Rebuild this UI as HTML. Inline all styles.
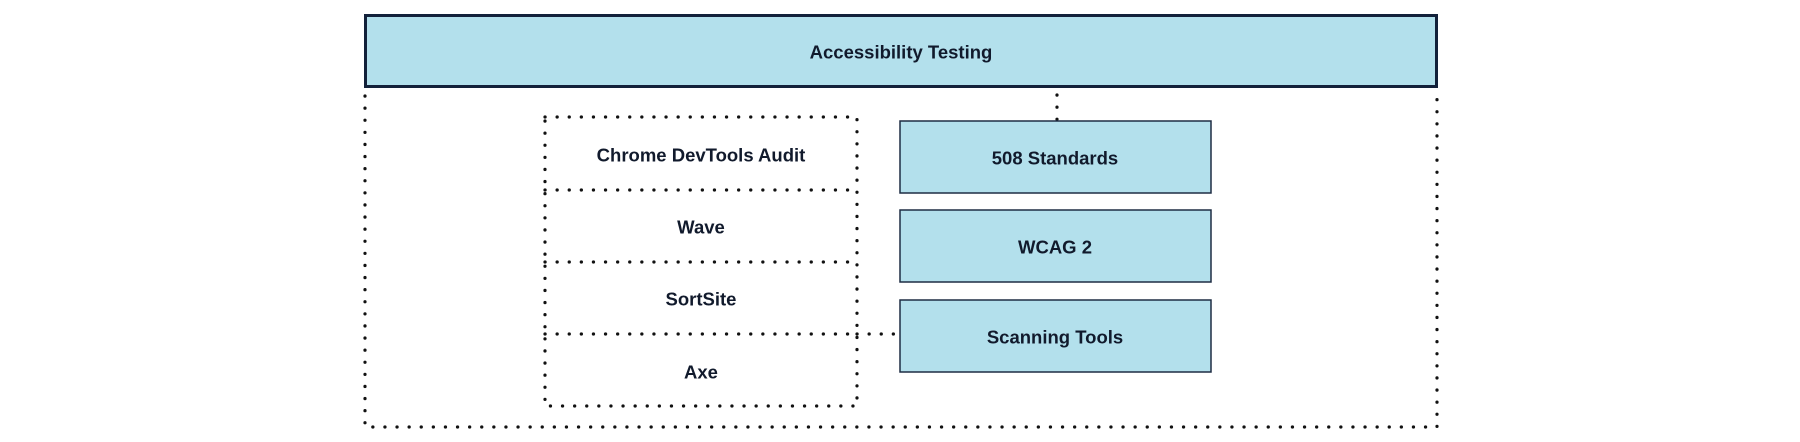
<!DOCTYPE html>
<html><head><meta charset="utf-8"><style>
html,body{margin:0;padding:0;background:#fff;width:1800px;height:442px;overflow:hidden}
svg text{font-family:"Liberation Sans",sans-serif;font-weight:bold;font-size:18.5px;fill:#111a2c;text-anchor:middle;dominant-baseline:central}
</style></head><body>
<svg width="1800" height="442" viewBox="0 0 1800 442" xmlns="http://www.w3.org/2000/svg">
<g stroke="#111" stroke-width="3.2" stroke-linecap="round" stroke-dasharray="0.1 12" fill="none">
<path d="M365 96 V427 H1437 V96"/>
<path d="M545 117 H857 V406 H545 Z"/>
<path d="M545 190 H857 M545 262 H857 M545 334 H857"/>
<path d="M857 334 H898"/>
<path d="M1057 95 V121"/>
</g>
<rect x="365.5" y="15.5" width="1071" height="71" fill="#b3e0ec" stroke="#13213a" stroke-width="3"/>
<text x="901" y="52">Accessibility Testing</text>
<g fill="#b3e0ec" stroke="#1e2d44" stroke-width="1.5">
<rect x="900" y="121" width="311" height="72"/>
<rect x="900" y="210" width="311" height="72"/>
<rect x="900" y="300" width="311" height="72"/>
</g>
<text x="1055" y="158">508 Standards</text>
<text x="1055" y="247">WCAG 2</text>
<text x="1055" y="337">Scanning Tools</text>
<text x="701" y="155">Chrome DevTools Audit</text>
<text x="701" y="227">Wave</text>
<text x="701" y="299">SortSite</text>
<text x="701" y="372">Axe</text>
</svg>
</body></html>
